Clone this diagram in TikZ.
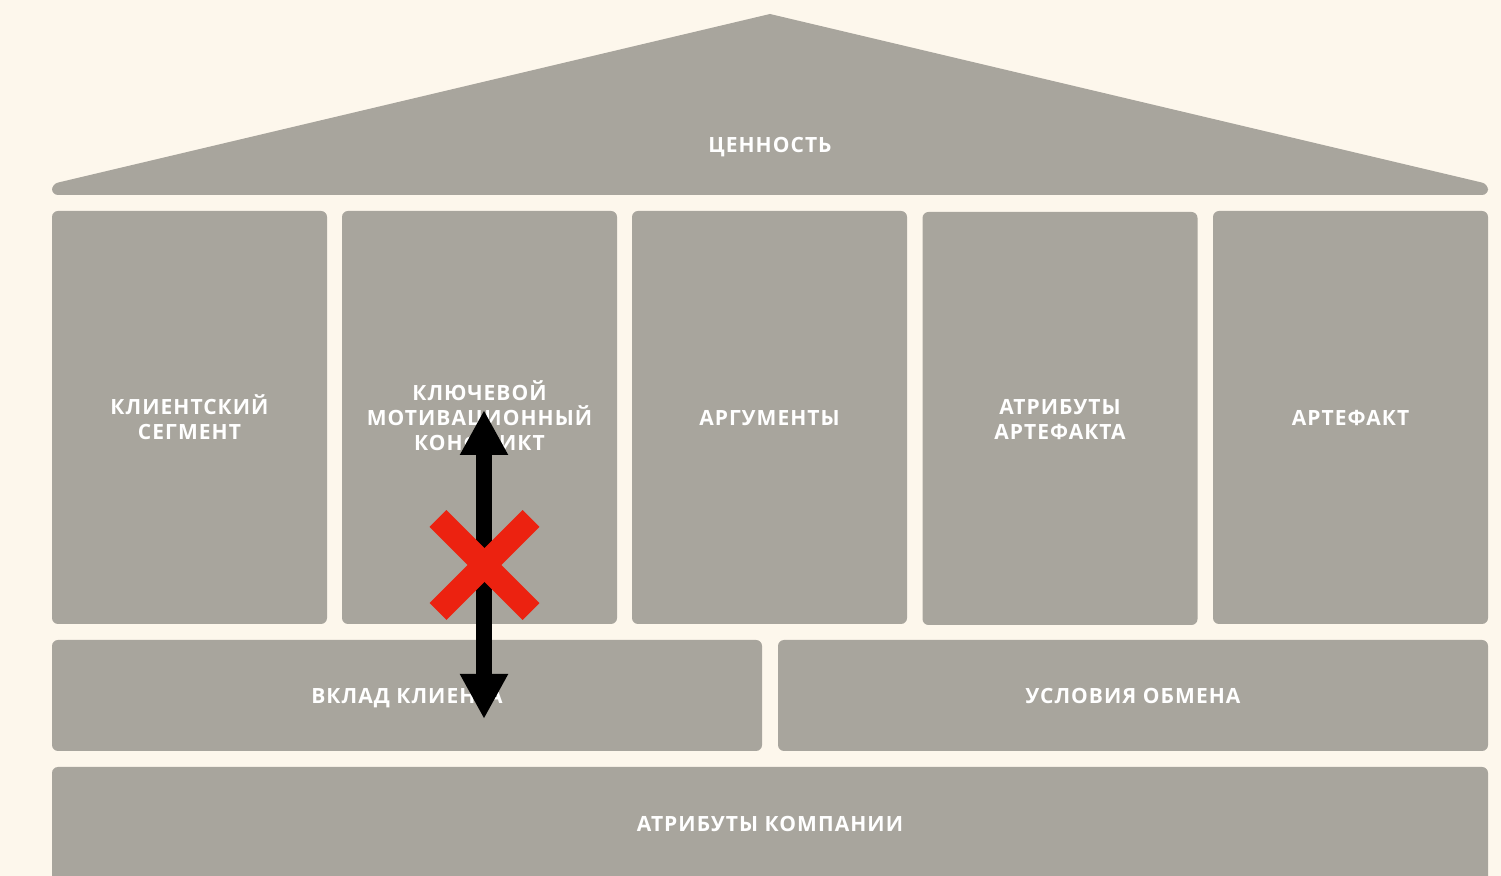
\documentclass[tikz,border=0pt]{standalone}
\usepackage{fontspec}
\setmainfont{Open Sans}[LetterSpace=5]
\usetikzlibrary{arrows.meta,calc}
\definecolor{bgc}{RGB}{253,247,236}
\definecolor{boxc}{RGB}{168,165,157}
\definecolor{crossc}{RGB}{236,34,16}
\tikzset{
  blk/.style={rectangle, rounded corners=3pt, fill=boxc, inner sep=0pt},
  colbox/.style={blk, minimum width=137.5pt, minimum height=206.5pt},
  rowbox/.style={blk, minimum width=355pt, minimum height=55.5pt},
  lbl/.style={text=white, font=\fontsize{10.5}{12.5}\selectfont\bfseries, align=center, inner sep=0pt},
  onelbl/.style={lbl, text height=7.5pt, text depth=0pt},
  dblarrow/.style={line width=8pt, {Triangle[length=22.5pt,width=22.5pt]}-{Triangle[length=22.5pt,width=22.5pt]}},
  xbar/.style={line width=12pt, crossc}
}
\begin{document}
\begin{tikzpicture}[x=0.5pt,y=-0.5pt]
\fill[bgc] (0,0) rectangle (1501,876);
\useasboundingbox (0,0) rectangle (1501,876);
% roof
\fill[boxc] (770,14) [rounded corners=3pt] -- (1488,184) -- (1488,195) -- (52,195) -- (52,184) [sharp corners] -- cycle;
\coordinate (roofc) at (770,145);
\node[onelbl] (value) at (roofc) {ЦЕННОСТЬ};
% columns
\node[colbox] (seg) at (189.5,417.5) {};
\node[colbox] (conf) at (479.5,417.5) {};
\node[colbox] (arg) at (769.5,417.5) {};
\node[colbox] (attr) at (1060,418.5) {};
\node[colbox] (art) at (1350.5,417.5) {};
% rows
\node[rowbox] (contrib) at (407,695.5) {};
\node[rowbox] (terms) at (1133,695.5) {};
\node[blk, minimum width=718pt, minimum height=58pt] (comp) at (770,825) {};
% labels
\node[lbl] (tseg) at (seg.center) {КЛИЕНТСКИЙ\\СЕГМЕНТ};
\node[lbl] (tconf) at ([yshift=1pt]conf.center) {КЛЮЧЕВОЙ\\МОТИВАЦИОННЫЙ\\КОНФЛИКТ};
\node[onelbl] (targ) at ([yshift=-0.25pt]arg.center) {АРГУМЕНТЫ};
\node[lbl] (tattr) at ([yshift=-0.5pt]attr.center) {АТРИБУТЫ\\АРТЕФАКТА};
\node[onelbl] (tart) at ([yshift=-0.25pt]art.center) {АРТЕФАКТ};
\node[onelbl] (tcontrib) at ([yshift=-0.25pt]contrib.center) {ВКЛАД КЛИЕНТА};
\node[onelbl] (tterms) at ([yshift=-0.25pt]terms.center) {УСЛОВИЯ ОБМЕНА};
\node[onelbl] (tcomp) at ([yshift=0.25pt]comp.center) {АТРИБУТЫ КОМПАНИИ};
% arrow
\coordinate (atop) at (484,410);
\coordinate (abot) at (484,719);
\draw[dblarrow] (atop) -- (abot);
% red cross
\coordinate (xc) at (484.5,565);
\draw[xbar] ($(xc)+(-46.5,-46.5)$) -- ($(xc)+(46.5,46.5)$);
\draw[xbar] ($(xc)+(46.5,-46.5)$) -- ($(xc)+(-46.5,46.5)$);
\end{tikzpicture}
\end{document}
